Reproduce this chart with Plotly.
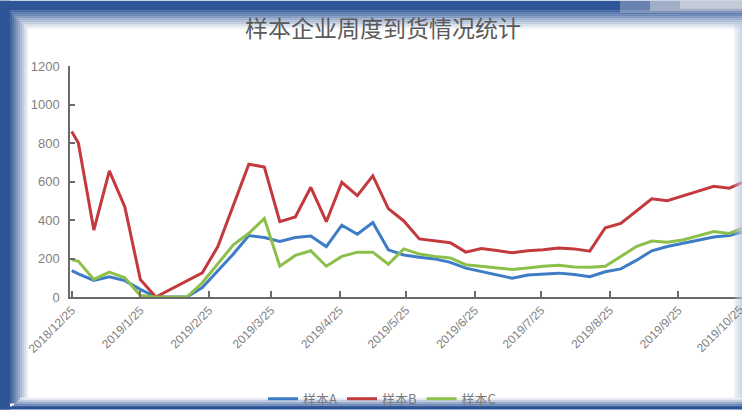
import plotly.graph_objects as go

dates = [
    "2018-12-25", "2018-12-28", "2019-01-04", "2019-01-11", "2019-01-18", "2019-01-25",
    "2019-02-01", "2019-02-08", "2019-02-15", "2019-02-22", "2019-03-01", "2019-03-08",
    "2019-03-15", "2019-03-22", "2019-03-29", "2019-04-05", "2019-04-12", "2019-04-19",
    "2019-04-26", "2019-05-03", "2019-05-10", "2019-05-17", "2019-05-24", "2019-05-31",
    "2019-06-07", "2019-06-14", "2019-06-21", "2019-06-28", "2019-07-05", "2019-07-12",
    "2019-07-19", "2019-07-26", "2019-08-02", "2019-08-09", "2019-08-16", "2019-08-23",
    "2019-08-30", "2019-09-06", "2019-09-13", "2019-09-20", "2019-09-27", "2019-10-04",
    "2019-10-11", "2019-10-18", "2019-10-25",
]

sample_a = [137, 120, 86, 105, 85, 40, 0, 0, 0, 49, 134, 223, 319, 309, 288, 309, 317, 262,
            373, 326, 387, 245, 218, 206, 198, 180, 150, 133, 114, 97, 114, 120, 124, 117,
            105, 131, 146, 190, 240, 262, 279, 296, 312, 320, 341]
sample_b = [860, 800, 348, 655, 468, 91, 0, 42, 84, 126, 262, 475, 690, 675, 391, 416, 570, 391,
            596, 527, 630, 459, 395, 302, 292, 282, 233, 252, 241, 230, 240, 245, 254, 250,
            238, 360, 382, 444, 510, 500, 527, 550, 575, 565, 600]
sample_c = [194, 185, 91, 129, 100, 8, 0, 0, 0, 74, 175, 271, 331, 408, 160, 216, 240, 160,
            211, 233, 233, 170, 250, 223, 211, 203, 168, 160, 151, 143, 151, 160, 165, 156,
            155, 160, 210, 262, 291, 285, 296, 318, 340, 330, 363]

series_names = ["样本A", "样本B", "样本C"]
series_colors = ["#3f7cc6", "#c4393c", "#8cc04a"]

tick_dates = ["2018-12-25", "2019-01-25", "2019-02-25", "2019-03-25", "2019-04-25",
              "2019-05-25", "2019-06-25", "2019-07-25", "2019-08-25", "2019-09-25"]
tick_text = ["2018/12/25", "2019/1/25", "2019/2/25", "2019/3/25", "2019/4/25",
             "2019/5/25", "2019/6/25", "2019/7/25", "2019/8/25", "2019/9/25"]
cut_tick_text = "2019/10/25"

W, H = 742, 414
L, R, T, B = 70, 0, 66, 114
PW, PH = W - L - R, H - T - B

def xp(px):
    return (px - L) / PW

def yp(py):
    return (T + PH - py) / PH

fig = go.Figure()
for name, vals, col in zip(series_names, [sample_a, sample_b, sample_c], series_colors):
    fig.add_trace(go.Scatter(x=dates, y=vals, name=name, mode="lines",
                             line=dict(color=col, width=3), cliponaxis=True))

# frame shapes
blue = (45, 85, 151)
white = (255, 255, 255)

def mix(t):
    c = [round(blue[i] * (1 - t) + white[i] * t) for i in range(3)]
    return "rgb(%d,%d,%d)" % tuple(c)

shapes = []
def rect(x0, y0, x1, y1, color, layer="below"):
    shapes.append(dict(type="rect", xref="paper", yref="paper",
                       x0=xp(x0), x1=xp(x1), y0=yp(y1), y1=yp(y0),
                       fillcolor=color, line=dict(width=0), layer=layer))

steps = 9
# top band
rect(0, 0, W, 10, mix(0))
for i in range(steps):
    t = (i + 1) / (steps + 1)
    rect(0, 10 + i * 2, W, 12 + i * 2, mix(t))
# top-right photo-ish smear
for i, a in enumerate([0.35, 0.5, 0.65]):
    rect(620 + i * 30, 0, W, 12 - i * 2, "rgba(215,218,224,%.2f)" % a)
# left band
rect(0, 0, 10, H, mix(0))
for i in range(steps):
    t = (i + 1) / (steps + 1)
    rect(10 + i * 2, 10 + i * 2 + 2, 12 + i * 2, H - 6, mix(t))
# right light edge
for i in range(4):
    rect(734 + i * 2, 20, 736 + i * 2, H, "rgba(190,200,222,%.2f)" % (0.25 + 0.15 * i), layer="above")
# bottom band
for i in range(5):
    t = 0.9 - i * 0.2
    rect(12 + (4 - i) * 2, 402 + i * 2, W, 404 + i * 2, mix(max(t, 0)), layer="above")
rect(0, 411, W, H, mix(0), layer="above")

fig.update_layout(
    width=W, height=H,
    margin=dict(l=L, r=R, t=T, b=B, pad=0),
    paper_bgcolor="white",
    plot_bgcolor="rgba(0,0,0,0)",
    shapes=shapes,
    showlegend=True,
    legend=dict(orientation="h", x=xp(382), y=yp(403), xanchor="center", yanchor="middle",
                font=dict(family="Noto Sans CJK SC", size=13, color="#7a7a7a"),
                bgcolor="rgba(0,0,0,0)", itemwidth=30, tracegroupgap=0),
    font=dict(family="Liberation Sans, Arial", color="#7f7f7f"),
    annotations=[
        dict(text="样本企业周度到货情况统计", xref="paper", yref="paper",
             x=xp(383), y=yp(27), xanchor="center", yanchor="middle", showarrow=False,
             font=dict(family="Noto Sans CJK SC", size=23, color="#5a5a5a")),
        dict(text=cut_tick_text, xref="paper", yref="paper", x=xp(749), y=yp(303),
             xanchor="right", yanchor="top", textangle=-45, showarrow=False,
             font=dict(family="Liberation Sans, Arial", size=12, color="#7f7f7f")),
    ],
)

fig.update_xaxes(
    type="date", range=["2018-12-24 05:30", "2019-10-23 18:00"],
    tickvals=tick_dates, ticktext=tick_text, tickangle=-45,
    tickfont=dict(size=12, color="#7f7f7f"),
    showline=True, linecolor="#6a6a6a", linewidth=1.5,
    ticks="inside", ticklen=6, tickcolor="#6a6a6a", tickwidth=1.5,
    showgrid=False, zeroline=False,
)
fig.update_yaxes(
    range=[0, 1200], tickvals=[0, 200, 400, 600, 800, 1000, 1200],
    tickfont=dict(size=13, color="#7f7f7f"),
    showline=True, linecolor="#6a6a6a", linewidth=1.5,
    ticks="inside", ticklen=5, tickcolor="#6a6a6a", tickwidth=1.5,
    showgrid=False, zeroline=False, ticklabelstandoff=6,
)

fig.write_html("out.html")
